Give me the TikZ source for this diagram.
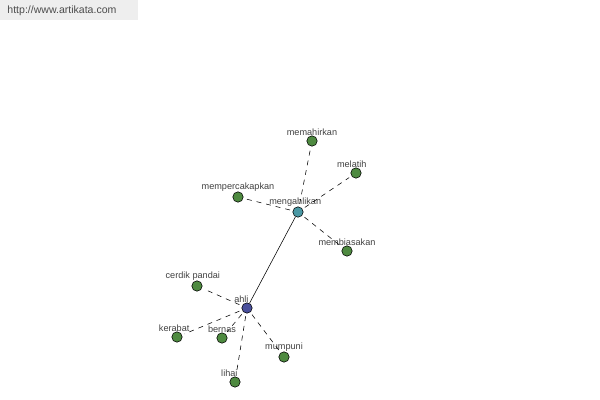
\documentclass[tikz,border=0pt]{standalone}
\usepackage{fontspec}
\setmainfont{Liberation Sans}
\usetikzlibrary{positioning}
\definecolor{wordgreen}{RGB}{78,138,64}
\definecolor{rootblue}{RGB}{74,80,156}
\definecolor{verbteal}{RGB}{74,152,164}
\definecolor{urlgray}{RGB}{238,238,238}
\begin{document}
\begin{tikzpicture}[x=0.025cm, y=-0.025cm, semithick]
	\tikzstyle{every node}=[font=\fontsize{6.5}{7}\selectfont, text=black!75]
	\tikzstyle{every label}=[inner sep=0pt, yshift=-0.5pt]
	\tikzstyle{word}=[circle, draw=black, thin, fill=wordgreen, minimum size=0.26cm, inner sep=0pt]
	\tikzstyle{link}=[dashed, thin, dash pattern=on 3.5pt off 3.5pt, shorten <=2pt, shorten >=2pt]
	\useasboundingbox (0,0) rectangle (600,400);
	\fill[urlgray] (0,0) rectangle (138,20);
	\node[anchor=west, inner sep=0pt, font=\fontsize{7.5}{8}\selectfont, text=black!70] (url) at (7,11) {http://www.artikata.com};
	% pusat
	\node[word, fill=rootblue, label={[xshift=-4pt]above:ahli}] (ahli) at (247,308) {};
	\node[word, fill=verbteal, label={[xshift=-2pt]above:mengahlikan}] (mengahlikan) at (298,212) {};
	% kata di sekitar mengahlikan
	\node[word, label=above:memahirkan] (memahirkan) at (312,141) {};
	\node[word, label={[xshift=-3pt]above:melatih}] (melatih) at (356,173) {};
	\node[word, label=above:mempercakapkan] (mempercakapkan) at (238,197) {};
	\node[word, label=above:membiasakan] (membiasakan) at (347,251) {};
	% kata di sekitar ahli
	\node[word, label={[xshift=-3pt]above:cerdik pandai}] (cerdik) at (197,286) {};
	\node[word, label={[xshift=-2pt]above:kerabat}] (kerabat) at (177,337) {};
	\node[word, label=above:bernas] (bernas) at (222,338) {};
	\node[word, label=above:mumpuni] (mumpuni) at (284,357) {};
	\node[word, label={[xshift=-4pt]above:lihai}] (lihai) at (235,382) {};
	\path
	(ahli) edge[thin] (mengahlikan)
	(mengahlikan) edge[link] (memahirkan)
	(mengahlikan) edge[link] (melatih)
	(mengahlikan) edge[link] (mempercakapkan)
	(mengahlikan) edge[link] (membiasakan)
	(ahli) edge[link] (cerdik)
	(ahli) edge[link] (kerabat)
	(ahli) edge[link] (bernas)
	(ahli) edge[link] (mumpuni)
	(ahli) edge[link] (lihai);
\end{tikzpicture}
\end{document}
